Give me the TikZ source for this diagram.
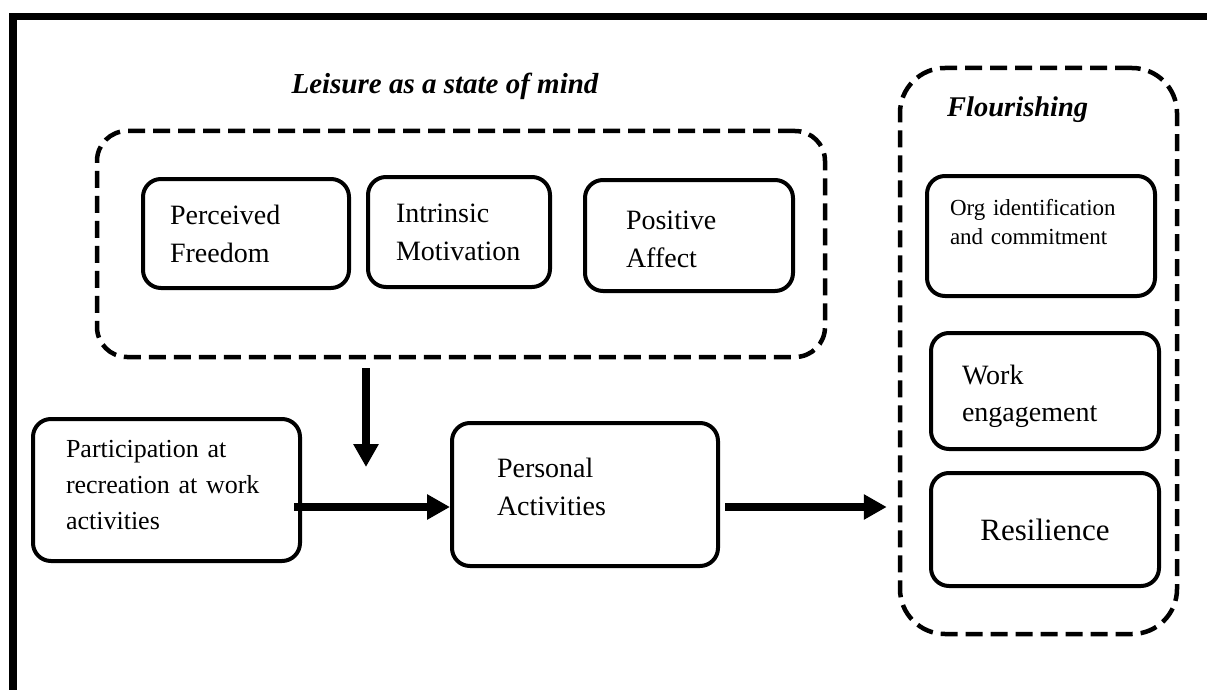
\documentclass[tikz,border=0pt]{standalone}
\usepackage{fontspec}
\setmainfont{Liberation Serif}
\usetikzlibrary{arrows.meta,calc}
\begin{document}
\begin{tikzpicture}[x=1pt,y=-1pt,
 box/.style={draw, line width=4pt, rounded corners=18pt, inner ysep=0pt, align=left, font=\fontsize{28}{38}\selectfont},
 grp/.style={draw, line width=4.5pt, dash pattern=on 17pt off 8pt, rounded corners=#1, inner sep=0pt},
 arr/.style={line width=7.5pt, -{Triangle[length=23pt,width=24pt]}},
 ttl/.style={font=\fontsize{29}{34}\selectfont\bfseries\itshape, inner sep=0pt}]
\useasboundingbox (0,0) rectangle (1207,690);
% frame
\draw[line width=7.3pt] (13,700) -- (13,16.3) -- (1215,16.3);
% groups
\node[grp=30pt, minimum width=728pt, minimum height=226pt] (lsm) at (461,244) {};
\node[grp=45pt, minimum width=277pt, minimum height=566pt] (fl) at (1038.5,351) {};
\node[ttl] (t1) at (445,86) {Leisure as a state of mind};
\node[ttl, anchor=west, font=\fontsize{28.5}{34}\selectfont\bfseries\itshape] (t2) at (947,110) {Flourishing};
% inner boxes
\node[box, text width=152pt, inner xsep=27pt, minimum height=109pt] (pf) at (246,233.5) {Perceived\\Freedom};
\node[box, text width=126pt, inner xsep=28pt, minimum height=110pt] (im) at (459,232) {Intrinsic\\Motivation};
\node[box, text width=126pt, inner xsep=41pt, minimum height=111pt] (pos) at (689,235.5) {\rule{0pt}{27pt}Positive\\Affect};
\node[box, text width=182pt, inner xsep=23pt, minimum height=120pt, font=\fontsize{23}{29}\selectfont] (org) at (1041,236) {Org identification\\and commitment\rule[-28pt]{0pt}{28pt}};
\node[box, text width=166pt, inner xsep=31pt, minimum height=116pt, font=\fontsize{28}{37}\selectfont] (we) at (1045,391) {\rule{0pt}{31pt}Work\\engagement};
\node[box, text width=200pt, inner xsep=14pt, minimum height=113pt, align=center, font=\fontsize{31}{38}\selectfont] (res) at (1045,529.5) {Resilience};
\node[box, text width=201pt, inner xsep=33pt, minimum height=142pt, font=\fontsize{26}{36}\selectfont] (part) at (166.5,490) {Participation at\\recreation at work\\activities\rule[-10pt]{0pt}{10pt}};
\node[box, text width=176pt, inner xsep=45pt, minimum height=143pt] (pa) at (585,494.5) {Personal\\Activities\rule[-16pt]{0pt}{16pt}};
% arrows
\coordinate (v1) at (366,368);
\coordinate (v2) at (366,467);
\draw[arr] (v1) -- (v2);
\coordinate (h1) at ($(part.east)+(-8,17)$);
\draw[arr] (h1) -- (h1 -| pa.west);
\coordinate (h2) at ($(pa.east)+(5,12.5)$);
\coordinate (h3) at ($(h2 -| fl.west)+(-11,0)$);
\draw[arr] (h2) -- (h3);
\end{tikzpicture}
\end{document}
